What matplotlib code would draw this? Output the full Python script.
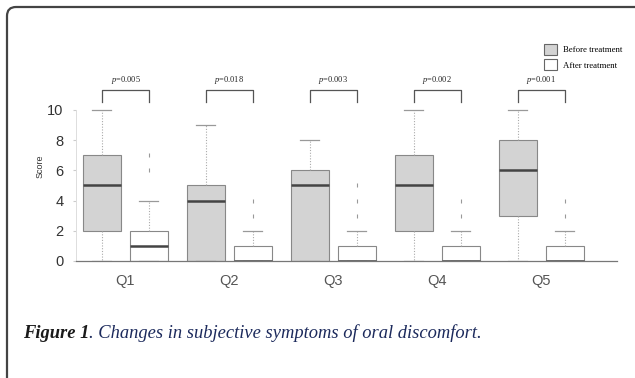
import matplotlib
matplotlib.use('Agg')
import matplotlib.pyplot as plt
from matplotlib.patches import Patch, FancyBboxPatch
from matplotlib.transforms import IdentityTransform

plt.rcParams['mathtext.fontset'] = 'custom'
plt.rcParams['mathtext.it'] = 'Liberation Serif:italic'
plt.rcParams['mathtext.rm'] = 'Liberation Serif'

questions = ['Q1', 'Q2', 'Q3', 'Q4', 'Q5']
p_values = ['0.005', '0.018', '0.003', '0.002', '0.001']

# before treatment: low whisker, q1, median, q3, high whisker
before_lo = [0, 0, 0, 0, 0]
before_q1 = [2, 0, 0, 2, 3]
before_med = [5, 4, 5, 5, 6]
before_q3 = [7, 5, 6, 7, 8]
before_hi = [10, 9, 8, 10, 10]
before_fliers = [[], [], [], [], []]

# after treatment
after_lo = [0, 0, 0, 0, 0]
after_q1 = [0, 0, 0, 0, 0]
after_med = [1, 0, 0, 0, 0]
after_q3 = [2, 1, 1, 1, 1]
after_hi = [4, 2, 2, 2, 2]
after_fliers = [[6, 7], [3, 4], [3, 4, 5], [3, 4], [3, 4]]


def make_stats(lo, q1, med, q3, hi, fl):
    out = []
    for i in range(len(lo)):
        out.append({'whislo': lo[i], 'q1': q1[i], 'med': med[i], 'q3': q3[i],
                    'whishi': hi[i], 'fliers': fl[i]})
    return out


fig = plt.figure(figsize=(6.35, 3.78), dpi=100)
W, H = 635, 378

# outer rounded frame (pixel coords, runs off the right and bottom edges)
frame = FancyBboxPatch((7, -60), 720, H - 7 + 60,
                       boxstyle='round,pad=0,rounding_size=9',
                       transform=IdentityTransform(), fill=False,
                       edgecolor='#444444', linewidth=1.6)
fig.patches.append(frame)

ax = fig.add_axes([76 / W, 1 - 261 / H, (617 - 76) / W, 12.5 * 15.1 / H])

off = 0.226
wid = 0.365
pos = range(1, len(questions) + 1)
box_kw = dict(widths=wid, capwidths=wid / 2, patch_artist=True, manage_ticks=False,
              whiskerprops=dict(color='#aaaaaa', linestyle=(0, (1, 1.5)), linewidth=0.8),
              capprops=dict(color='#999999', linewidth=0.9),
              medianprops=dict(color='#444444', linewidth=1.8),
              flierprops=dict(marker='|', markersize=2.5, markeredgecolor='#999999',
                              markeredgewidth=0.8))

ax.bxp(make_stats(before_lo, before_q1, before_med, before_q3, before_hi, before_fliers),
       positions=[p - off for p in pos],
       boxprops=dict(facecolor='#d3d3d3', edgecolor='#888888', linewidth=0.8), **box_kw)
ax.bxp(make_stats(after_lo, after_q1, after_med, after_q3, after_hi, after_fliers),
       positions=[p + off for p in pos],
       boxprops=dict(facecolor='white', edgecolor='#888888', linewidth=0.8), **box_kw)

# p-value brackets
for i, p in enumerate(pos):
    ax.plot([p - off, p - off, p + off, p + off], [10.5, 11.3, 11.3, 10.5],
            color='#555555', linewidth=0.9, clip_on=False)
    ax.text(p, 11.6, '$p$=' + p_values[i], ha='center', va='bottom', fontsize=6,
            family='Liberation Serif', color='#222222')

ax.set_xlim(0.524, 5.73)
ax.set_ylim(0, 12.5)
ax.set_yticks([0, 2, 4, 6, 8, 10])
ax.set_xticks(list(pos))
ax.set_xticklabels(questions)
for s in ['top', 'right']:
    ax.spines[s].set_visible(False)
ax.spines['left'].set_bounds(0, 10)
ax.spines['left'].set_color('#dddddd')
ax.spines['left'].set_linewidth(0.7)
ax.spines['bottom'].set_color('#777777')
ax.spines['bottom'].set_linewidth(0.9)
ax.tick_params(axis='y', length=2, color='#cccccc', labelsize=10.5, labelcolor='#333333',
               pad=7)
ax.tick_params(axis='x', length=0, labelsize=10.5, labelcolor='#555555', pad=9)
for lab in ax.get_xticklabels() + ax.get_yticklabels():
    lab.set_family('Liberation Sans')
ax.set_ylabel('Score', fontsize=6.5, family='Liberation Sans', color='#333333', labelpad=2)

handles = [Patch(facecolor='#d3d3d3', edgecolor='#666666', linewidth=0.8, label='Before treatment'),
           Patch(facecolor='white', edgecolor='#666666', linewidth=0.8, label='After treatment')]
fig.legend(handles=handles, loc='upper left', bbox_to_anchor=(536 / W, 1 - 36 / H),
           frameon=False, prop={'family': 'Liberation Serif', 'size': 6.3},
           handlelength=1.5, handleheight=1.6, labelspacing=0.45, handletextpad=0.7)

# caption
t1 = fig.text(23 / W, 1 - 338 / H, 'Figure 1', fontsize=13.3, family='Liberation Serif',
              style='italic', weight='bold', color='#1a1a1a', va='baseline')
ax.annotate('. Changes in subjective symptoms of oral discomfort.', xy=(1, 0),
            xycoords=t1, va='bottom', ha='left', fontsize=13.3, family='Liberation Serif',
            style='italic', color='#1c2a5c', annotation_clip=False)

fig.savefig('out.png', dpi=100)
